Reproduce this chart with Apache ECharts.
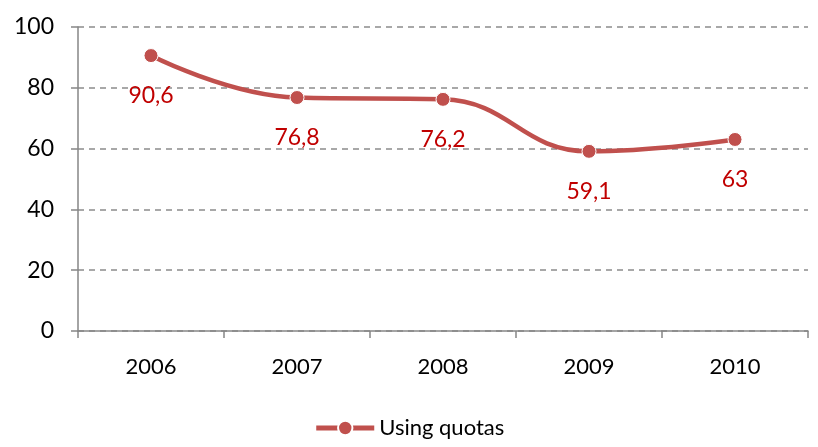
<!DOCTYPE html>
<html>
<head>
<meta charset="utf-8">
<script src="https://cdn.jsdelivr.net/npm/echarts@6/dist/echarts.min.js"></script>
<style>
  html, body { margin: 0; padding: 0; background: #fff; }
  #chart { width: 818px; height: 447px; }
</style>
</head>
<body>
<div id="chart"></div>
<script>
// Share of respondents using quotas, by year
const years = ['2006', '2007', '2008', '2009', '2010'];
const usingQuotas = [90.6, 76.8, 76.2, 59.1, 63];
const seriesName = 'Using quotas';

const FONT = 'Lato, "Open Sans", sans-serif';
const axisGray = '#868686';

const chart = echarts.init(document.getElementById('chart'), null, { renderer: 'canvas' });
chart.setOption({
  animation: false,
  textStyle: { fontFamily: FONT },
  grid: { left: 78, right: 10, top: 27, bottom: 116, containLabel: false },
  legend: {
    bottom: 3,
    left: 'center',
    itemWidth: 58,
    itemHeight: 18,
    itemGap: 6,
    lineStyle: { width: 5 },
    textStyle: { fontFamily: FONT, fontSize: 22, color: '#000' },
    data: [seriesName]
  },
  xAxis: {
    type: 'category',
    data: years,
    boundaryGap: true,
    axisLine: { lineStyle: { color: axisGray, width: 1.5 } },
    axisTick: { show: true, alignWithLabel: false, length: 7, lineStyle: { color: axisGray, width: 1.5 } },
    axisLabel: { fontFamily: FONT, fontSize: 22, color: '#000', margin: 25 }
  },
  yAxis: {
    type: 'value',
    min: 0,
    max: 100,
    interval: 20,
    axisLine: { show: true, lineStyle: { color: axisGray, width: 1.5 } },
    axisTick: { show: true, inside: false, length: 7, lineStyle: { color: axisGray, width: 1.5 } },
    axisLabel: { fontFamily: FONT, fontSize: 23, color: '#000', margin: 24 },
    splitLine: { show: true, lineStyle: { color: '#8c8c8c', type: [6, 5], width: 1.5 } }
  },
  series: [{
    name: seriesName,
    type: 'line',
    data: usingQuotas,
    smooth: 0.45,
    symbol: 'circle',
    symbolSize: 14,
    lineStyle: { color: '#C0504D', width: 4.5 },
    itemStyle: { color: '#C0504D', borderColor: '#fff', borderWidth: 1 },
    label: {
      show: true,
      position: 'bottom',
      distance: 21,
      fontFamily: FONT,
      fontSize: 23,
      color: '#C00000',
      formatter: p => String(p.value).replace('.', ',')
    }
  }]
});
</script>
</body>
</html>
